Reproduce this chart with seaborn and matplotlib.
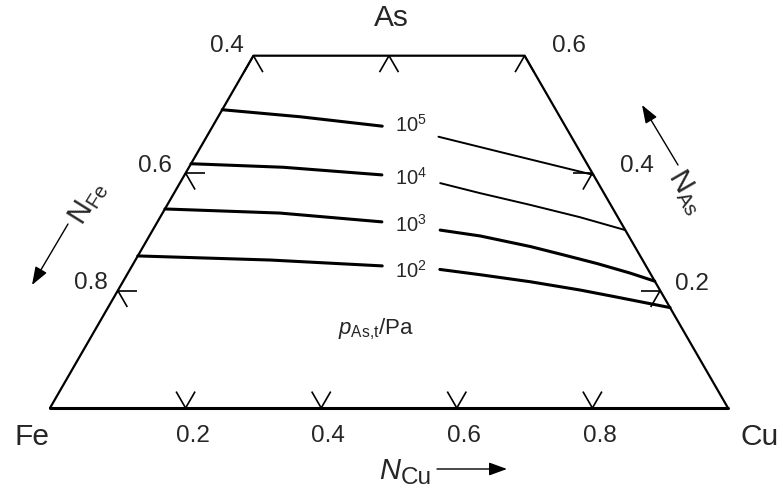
import numpy as np
import pandas as pd
import matplotlib
matplotlib.use("Agg")
import matplotlib.pyplot as plt
import seaborn as sns

# ---------------- data (mole fractions) ----------------
isobar_names = ["$10^{5}$", "$10^{4}$", "$10^{3}$", "$10^{2}$"]

p5_left_ncu = [0.000, 0.121, 0.250]
p5_left_nas = [0.508, 0.496, 0.480]
p5_right_ncu = [0.342, 0.454, 0.603]
p5_right_nas = [0.462, 0.434, 0.397]

p4_left_ncu = [0.000, 0.139, 0.291]
p4_left_nas = [0.416, 0.410, 0.397]
p4_right_ncu = [0.384, 0.451, 0.535, 0.619, 0.697]
p4_right_nas = [0.383, 0.366, 0.346, 0.325, 0.303]

p3_left_ncu = [0.000, 0.173, 0.331]
p3_left_nas = [0.339, 0.332, 0.317]
p3_right_ncu = [0.424, 0.488, 0.571, 0.626, 0.684, 0.740, 0.784]
p3_right_nas = [0.303, 0.293, 0.275, 0.261, 0.246, 0.230, 0.216]

p2_left_ncu = [0.000, 0.199, 0.369]
p2_left_nas = [0.259, 0.252, 0.242]
p2_right_ncu = [0.457, 0.521, 0.601, 0.681, 0.736, 0.829]
p2_right_nas = [0.236, 0.227, 0.215, 0.201, 0.190, 0.171]

bottom_ticks = [0.2, 0.4, 0.6, 0.8]       # N_Cu on Fe-Cu edge
side_ticks = [0.2, 0.4]                    # N_As on side edges
top_ticks_ncu = [0.0, 0.2, 0.4]            # N_Cu on the N_As = 0.6 cut
top_nas = 0.6

# ---------------- helpers ----------------
SQ = np.sqrt(3) / 2
PX = 678.0  # pixels per unit


def tern(ncu, nas):
    ncu = np.asarray(ncu, float)
    nas = np.asarray(nas, float)
    return ncu + nas / 2, nas * SQ


def px(x, y):
    """pixel position (from top-left) -> data coordinates"""
    return (x - 50) / PX, (408 - y) / PX


sns.set_theme(style="white")
plt.rcParams["font.family"] = ["Liberation Sans", "DejaVu Sans"]
plt.rcParams["mathtext.fontset"] = "custom"
plt.rcParams["mathtext.rm"] = "Liberation Sans"
plt.rcParams["mathtext.it"] = "Liberation Sans:italic"

fig = plt.figure(figsize=(7.82, 4.88), dpi=100)
ax = fig.add_axes([0, 0, 1, 1])
ax.set_xlim(-50 / PX, 732 / PX)
ax.set_ylim(-80 / PX, 408 / PX)
ax.set_axis_off()

# ---------------- frame ----------------
fx, fy = tern([0, 1], [0, 0])
sns.lineplot(x=fx, y=fy, sort=False, estimator=None, color="black", linewidth=2.2, ax=ax)
fx, fy = tern([1, 0.4, 0.0, 0.0], [0, 0.6, 0.6, 0.0])
sns.lineplot(x=fx, y=fy, sort=False, estimator=None, color="black", linewidth=1.6, ax=ax)

# ---------------- chevron ticks ----------------
L = 0.028


def chevron(ncu, nas, angles):
    x0, y0 = tern(ncu, nas)
    for a in angles:
        r = np.deg2rad(a)
        ax.plot([x0, x0 + L * np.cos(r)], [y0, y0 + L * np.sin(r)],
                color="black", lw=1.2, solid_capstyle="butt")


for v in bottom_ticks:
    chevron(v, 0.0, [60, 120])
for v in side_ticks:
    chevron(0.0, v, [0, 300])
    chevron(1 - v, v, [180, 240])
for v in top_ticks_ncu:
    chevron(v, top_nas, [240, 300])

# ---------------- isobars ----------------
segments = [
    (p5_left_ncu, p5_left_nas, 2.2), (p5_right_ncu, p5_right_nas, 1.4),
    (p4_left_ncu, p4_left_nas, 2.2), (p4_right_ncu, p4_right_nas, 1.4),
    (p3_left_ncu, p3_left_nas, 2.2), (p3_right_ncu, p3_right_nas, 2.2),
    (p2_left_ncu, p2_left_nas, 2.2), (p2_right_ncu, p2_right_nas, 2.2),
]
for ncu, nas, lw in segments:
    x, y = tern(ncu, nas)
    line = sns.lineplot(x=x, y=y, sort=False, estimator=None, color="black",
                        linewidth=lw, ax=ax)
for ln in ax.get_lines():
    ln.set_solid_joinstyle("round")

label_baselines = [131.8, 185.0, 231.8, 277.8]
for name, yb in zip(isobar_names, label_baselines):
    ax.text(*px(395, yb), name, fontsize=14.5, ha="left", va="baseline")

ax.text(*px(376, 329), r"$p_{\mathrm{As{,}t}}$/Pa", fontsize=16, ha="center", va="center")

# ---------------- tick labels ----------------
k = 0.72  # px -> pt
for v in bottom_ticks:
    ax.annotate(f"{v:.1f}", tern(v, 0), xytext=(7 * k, -28 * k), textcoords="offset points",
                ha="center", va="center", fontsize=17.5)
ax.annotate("0.6", tern(0, 0.4), xytext=(-14 * k, 7 * k), textcoords="offset points",
            ha="right", va="center", fontsize=17.5)
ax.annotate("0.8", tern(0, 0.2), xytext=(-10 * k, 8 * k), textcoords="offset points",
            ha="right", va="center", fontsize=17.5)
ax.annotate("0.4", tern(0, 0.6), xytext=(-10 * k, 10 * k), textcoords="offset points",
            ha="right", va="center", fontsize=17.5)
ax.annotate("0.6", tern(0.4, 0.6), xytext=(27 * k, 10 * k), textcoords="offset points",
            ha="left", va="center", fontsize=17.5)
ax.annotate("0.4", tern(0.6, 0.4), xytext=(28 * k, 7 * k), textcoords="offset points",
            ha="left", va="center", fontsize=17.5)
ax.annotate("0.2", tern(0.8, 0.2), xytext=(15 * k, 6.5 * k), textcoords="offset points",
            ha="left", va="center", fontsize=17.5)

# ---------------- vertex labels ----------------
ax.annotate("As", tern(0.2, 0.6), xytext=(2 * k, 38 * k), textcoords="offset points",
            ha="center", va="center", fontsize=21.5)
ax.annotate("Fe", tern(0, 0), xytext=(-18 * k, -29 * k), textcoords="offset points",
            ha="center", va="center", fontsize=21.5)
ax.annotate("Cu", tern(1, 0), xytext=(32 * k, -29 * k), textcoords="offset points",
            ha="center", va="center", fontsize=21.5)

# ---------------- axis titles with arrows ----------------
aprops = dict(arrowstyle="-|>,head_length=0.55,head_width=0.2", color="black", lw=1.0,
              shrinkA=0, shrinkB=0, mutation_scale=20)

ax.text(*px(400, 479), "N", fontsize=21, style="italic", ha="right", va="baseline")
ax.text(*px(401, 483.5), "Cu", fontsize=17.5, ha="left", va="baseline")
ax.annotate("", xy=px(507, 469), xytext=px(437, 469), arrowprops=aprops)

ax.text(*px(88, 203), r"$\mathrm{N}_{\mathrm{Fe}}$", fontsize=21, rotation=58,
        rotation_mode="anchor", ha="center", va="center")
ax.annotate("", xy=px(32, 285), xytext=px(68, 224), arrowprops=aprops)

ax.text(*px(686, 192), r"$\mathrm{N}_{\mathrm{As}}$", fontsize=21, rotation=-60,
        rotation_mode="anchor", ha="center", va="center")
ax.annotate("", xy=px(642, 105), xytext=px(678, 165), arrowprops=aprops)

fig.savefig("out.png", dpi=100)
